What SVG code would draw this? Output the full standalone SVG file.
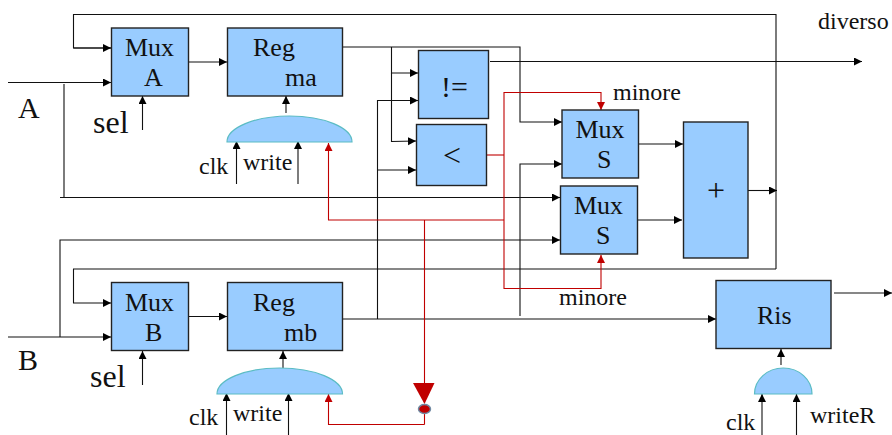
<svg xmlns="http://www.w3.org/2000/svg" width="892" height="435" viewBox="0 0 892 435">
<style>
text{font-family:"Liberation Serif","Times New Roman",serif;fill:#111;font-size:24px}
.b{fill:#99ccff;stroke:#222;stroke-width:1.4}
.g{fill:#99ccff;stroke:#5bbcc4;stroke-width:1.2}
.m{font-size:26px}
.big{font-size:30px}
.sel{font-size:32px}
#wires path{fill:none;stroke:#111;stroke-width:1.1}
#wires path.a{marker-end:url(#ah)}
#wires path.r{stroke:#c00000;stroke-width:1.1}
#wires path.ra{stroke:#c00000;stroke-width:1.1;marker-end:url(#rh)}
</style>
<defs>
<marker id="ah" markerUnits="userSpaceOnUse" markerWidth="9" markerHeight="9" refX="8" refY="4" orient="auto"><path d="M0 0L8 4L0 8Z" fill="#000"/></marker>
<marker id="rh" markerUnits="userSpaceOnUse" markerWidth="9" markerHeight="9" refX="8" refY="4" orient="auto"><path d="M0 0L8 4L0 8Z" fill="#c00000"/></marker>
</defs>
<rect width="892" height="435" fill="#fff"/>
<g id="wires">
<path class="a" d="M776 269H73.5V303H111"/>
<path d="M776 269V14.500H73.500V48H111" />
<path class="a" d="M73.500 48H111"/>
<path class="a" d="M8 82.500H111"/>
<path class="a" d="M64 84V197.500M60 197.500H560"/>
<path class="a" d="M188.500 62H227"/>
<path class="a" d="M188.500 316.500H227"/>
<path class="a" d="M342.500 47H520V122H562"/>
<path class="a" d="M391.500 47V73H418"/>
<path class="a" d="M391.500 73V141.500L416 141"/>
<path class="a" d="M377.500 319V100.500H418"/>
<path class="a" d="M377.500 170H416"/>
<path class="a" d="M342.500 319H716"/>
<path class="a" d="M520 316V164H562"/>
<path class="a" d="M8 337H111"/>
<path class="a" d="M60 337V240H560"/>
<path class="a" d="M490 61.500H862"/>
<path class="a" d="M638.500 144H683"/>
<path class="a" d="M637.500 220H682"/>
<path class="a" d="M748 190.500H777"/>
<path class="a" d="M834 293H892"/>
<path class="a" d="M142.500 130V96"/>
<path class="a" d="M142.500 385V351"/>
<path class="a" d="M286 113V96"/>
<path class="a" d="M283 368V351"/>
<path class="a" d="M781 365V349"/>
<path class="a" d="M236.500 184V141"/>
<path class="a" d="M298 184V141"/>
<path class="a" d="M226.500 435V393"/>
<path class="a" d="M288.500 435V393"/>
<path class="a" d="M762 435V394"/>
<path class="a" d="M796.500 435V394"/>
<path class="r" d="M487 155H504"/>
<path class="ra" d="M504 155V92.500H601V110"/>
<path class="ra" d="M504 155V288.500H601V255"/>
<path class="ra" d="M504 220H328.500V143"/>
<path class="ra" d="M424.500 424.500H328.500V394"/>
<path class="r" d="M424.500 220V384M424.500 414V424.500"/>
</g>
<g id="mux-a"><rect class="b" x="111.500" y="28" width="77" height="68"/><text class="m" x="125" y="56">Mux</text><text class="m" x="144" y="86">A</text></g>
<g id="reg-ma"><rect class="b" x="227.500" y="28" width="115" height="68"/><text class="m" x="253" y="56">Reg</text><text class="m" x="285" y="86">ma</text></g>
<g id="gate-ma"><path class="g" d="M227 142A62.500 26 0 0 1 352 142Z"/><text x="199" y="174">clk</text><text x="243" y="170">write</text></g>
<g id="neq"><rect class="b" x="418.500" y="50.500" width="70" height="68"/><text class="big" x="441" y="97">!=</text></g>
<g id="lt"><rect class="b" x="416.500" y="124.500" width="70" height="61"/><text class="sel" x="443" y="166">&lt;</text></g>
<g id="mux-s1"><rect class="b" x="562" y="110" width="76.500" height="68"/><text class="m" x="575.500" y="138">Mux</text><text class="m" x="597" y="168">S</text></g>
<g id="mux-s2"><rect class="b" x="560.500" y="186" width="77" height="68"/><text class="m" x="574" y="213.500">Mux</text><text class="m" x="596" y="244">S</text></g>
<g id="adder"><rect class="b" x="683.500" y="122" width="64.500" height="136"/><text class="sel" x="707" y="201">+</text></g>
<g id="mux-b"><rect class="b" x="111.500" y="282.500" width="77" height="68"/><text class="m" x="125" y="311">Mux</text><text class="m" x="145" y="341">B</text></g>
<g id="reg-mb"><rect class="b" x="227.500" y="282.500" width="115" height="68"/><text class="m" x="253" y="311">Reg</text><text class="m" x="284" y="341">mb</text></g>
<g id="gate-mb"><path class="g" d="M217 394A62.750 26 0 0 1 342.500 394Z"/><text x="189" y="425">clk</text><text x="233" y="421">write</text></g>
<g id="ris"><rect class="b" x="716" y="280.500" width="115" height="68"/><text class="m" x="757" y="324">Ris</text></g>
<g id="gate-ris"><path class="g" d="M754.500 394A28.750 26 0 0 1 812 394Z"/><text x="726" y="430">clk</text><text x="810" y="423">writeR</text></g>
<g id="red-junction"><path d="M413 383H434.500L424.500 404Z" fill="#c00000"/><ellipse cx="424.500" cy="409" rx="6" ry="4.500" fill="#c00000" stroke="#6f8aa3" stroke-width="1.500"/></g>
<g id="labels">
<text class="big" x="18" y="118">A</text>
<text class="big" x="18" y="370">B</text>
<text class="sel" x="93" y="133">sel</text>
<text class="sel" x="90" y="387">sel</text>
<text x="613" y="100">minore</text>
<text x="559" y="305">minore</text>
<text x="818" y="29">diverso</text>
</g>
</svg>
